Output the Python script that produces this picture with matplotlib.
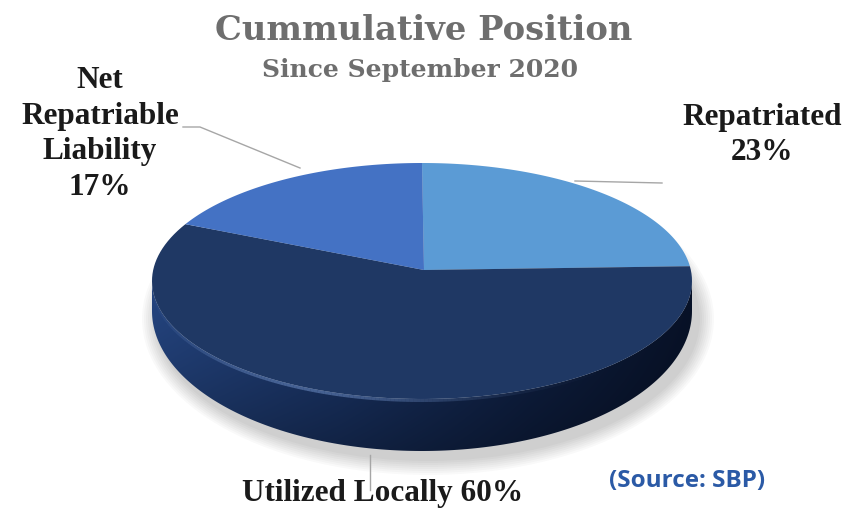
import numpy as np
import matplotlib
matplotlib.use("Agg")
import matplotlib.pyplot as plt
from matplotlib.patches import Polygon, Ellipse
from matplotlib.collections import LineCollection
from matplotlib.colors import to_rgb

labels = ["Repatriated", "Utilized Locally", "Net\nRepatriable\nLiability"]
shares = [23, 60, 17]
top_colors = ["#5b9bd5", "#1f3864", "#4472c4"]

# tilted disc geometry, pixel coords (y grows downward)
cx, cy = 422, 281
a, b = 270, 118
apex = (424, 270)
b_low, drop = 140, 30


def rim(theta, ry=b, yoff=0):
    t = np.radians(theta)
    return cx + a * np.sin(t), cy - ry * np.cos(t) + yoff


fig = plt.figure(figsize=(8.48, 5.12), dpi=100)
ax = fig.add_axes([0, 0, 1, 1])
ax.set_xlim(0, 848)
ax.set_ylim(512, 0)
ax.axis("off")

# soft shadow under the disc
for k in range(2, 18, 2):
    ax.add_patch(Ellipse((cx + 6, cy + drop + 8), 2 * (a + k), 2 * (b_low + k),
                         fc="#000000", ec="none", alpha=0.022, zorder=1))

# side wall (front half only)
th_top = np.linspace(90, 270, 200)
th_bot = th_top[::-1]
xt, yt = rim(th_top)
xb, yb = rim(th_bot, ry=b_low, yoff=drop)
side = Polygon(np.column_stack([np.r_[xt, xb], np.r_[yt, yb]]), closed=True,
               fc="none", ec="none", zorder=2)
ax.add_patch(side)

nx, ny = 300, 120
gx = np.linspace(0, 1, nx)
gy = np.linspace(0, 1, ny)
stops = [(0.0, "#24447f"), (0.35, "#1a3466"), (0.7, "#0f2043"), (1.0, "#081228")]
pos = [s[0] for s in stops]
cols = np.array([to_rgb(s[1]) for s in stops])
base = np.stack([np.interp(gx, pos, cols[:, i]) for i in range(3)], axis=-1)
shade = (1.0 - 0.35 * gy ** 1.5)[:, None, None]
img = base[None, :, :] * shade
im = ax.imshow(img, extent=[cx - a, cx + a, cy + b_low + drop + 2, cy - 5],
               aspect="auto", zorder=2, interpolation="bilinear")
im.set_clip_path(side)

# top face slices, clockwise from 12 o'clock
edges = np.r_[0, np.cumsum(shares)] / np.sum(shares) * 360
for i, col in enumerate(top_colors):
    th = np.linspace(edges[i], edges[i + 1], 120)
    x, y = rim(th)
    ax.add_patch(Polygon(np.column_stack([np.r_[apex[0], x], np.r_[apex[1], y]]),
                         closed=True, fc=col, ec="none", zorder=3))

# soft highlight along front rim
th = np.linspace(140, 268, 160)
x, y = rim(th)
y = y + 1.5
segs = np.stack([np.column_stack([x[:-1], y[:-1]]), np.column_stack([x[1:], y[1:]])], axis=1)
mid = (th[:-1] + th[1:]) / 2
alpha = np.clip(np.exp(-((mid - 205) / 35) ** 2), 0, 1) * 0.55
rgba = np.column_stack([np.tile(to_rgb("#6f8fc6"), (len(mid), 1)), alpha])
ax.add_collection(LineCollection(segs, colors=rgba, linewidths=2.2, zorder=4))

# leader lines
lc = "#a6a6a6"
ax.plot([183, 200, 300], [127, 127, 168], color=lc, lw=1, zorder=5)
ax.plot([575, 662], [181, 183], color=lc, lw=1, zorder=5)
ax.plot([370, 370], [455, 490], color=lc, lw=1, zorder=5)

ax.text(424, 30, "Cummulative Position", ha="center", va="center",
        fontsize=24.3, fontweight="bold", family="DejaVu Serif", color="#6e6e6e")
ax.text(420, 70, "Since September 2020", ha="center", va="center",
        fontsize=18, fontweight="bold", family="DejaVu Serif", color="#6e6e6e")

serif = "Liberation Serif"
lab_style = dict(fontsize=22.5, fontweight="bold", family=serif, color="#1a1a1a",
                 ha="center", va="center", multialignment="center", linespacing=1.3)
ax.text(100, 134, f"{labels[2]}\n{shares[2]}%", **lab_style)
ax.text(762, 135, f"{labels[0]}\n{shares[0]}%", **lab_style)
ax.text(383, 493, f"{labels[1]} {shares[1]}%", **lab_style)

ax.text(687, 481, "(Source: SBP)", ha="center", va="center", fontsize=17.5,
        fontweight="bold", family=["Open Sans", "DejaVu Sans"], color="#2b5aa6")

fig.savefig("out.png", dpi=100)
